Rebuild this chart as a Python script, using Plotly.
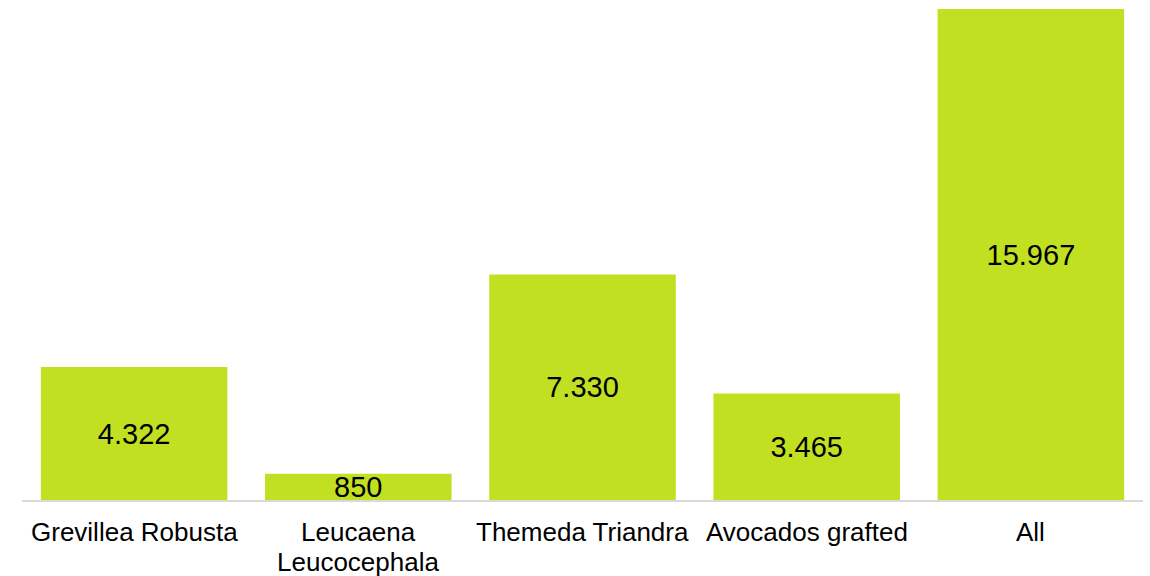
import plotly.graph_objects as go

# Category labels (one entry per text line) and counts per species
label_lines = [
    ["Grevillea Robusta"],
    ["Leucaena", "Leucocephala"],
    ["Themeda Triandra"],
    ["Avocados grafted"],
    ["All"],
]
categories = [" ".join(lines) for lines in label_lines]
values = [4322, 850, 7330, 3465, 15967]

bar_color = "#C2E022"
font_family = "Liberation Sans, Arial, sans-serif"

fig = go.Figure(
    go.Bar(
        x=categories,
        y=values,
        marker=dict(color=bar_color, line=dict(width=0)),
        texttemplate="%{y:,}",
        textposition="inside",
        insidetextanchor="middle",
        constraintext="none",
        textangle=0,
        textfont=dict(family=font_family, size=29, color="#000000"),
        hoverinfo="skip",
    )
)

# Category names under the axis, with a tighter line spacing for wrapped names
line_offsets = [-32, -62]
for cat, lines in zip(categories, label_lines):
    for i, line in enumerate(lines):
        fig.add_annotation(
            x=cat,
            y=0,
            xref="x",
            yref="y",
            text=line,
            showarrow=False,
            xanchor="center",
            yanchor="middle",
            yshift=line_offsets[i],
            font=dict(family=font_family, size=26, color="#000000"),
        )

fig.update_layout(
    width=1150,
    height=576,
    margin=dict(l=22, r=7, t=9, b=76),
    paper_bgcolor="white",
    plot_bgcolor="white",
    bargap=0.168,
    separators=",.",
    showlegend=False,
    font=dict(family=font_family, color="#000000"),
)

fig.update_xaxes(
    showline=True,
    linecolor="#D9D9D9",
    linewidth=2,
    showgrid=False,
    ticks="",
    showticklabels=False,
    automargin=False,
)
fig.update_yaxes(
    range=[0, 15967],
    visible=False,
    showgrid=False,
    zeroline=False,
    automargin=False,
)

fig.write_html("out.html")
